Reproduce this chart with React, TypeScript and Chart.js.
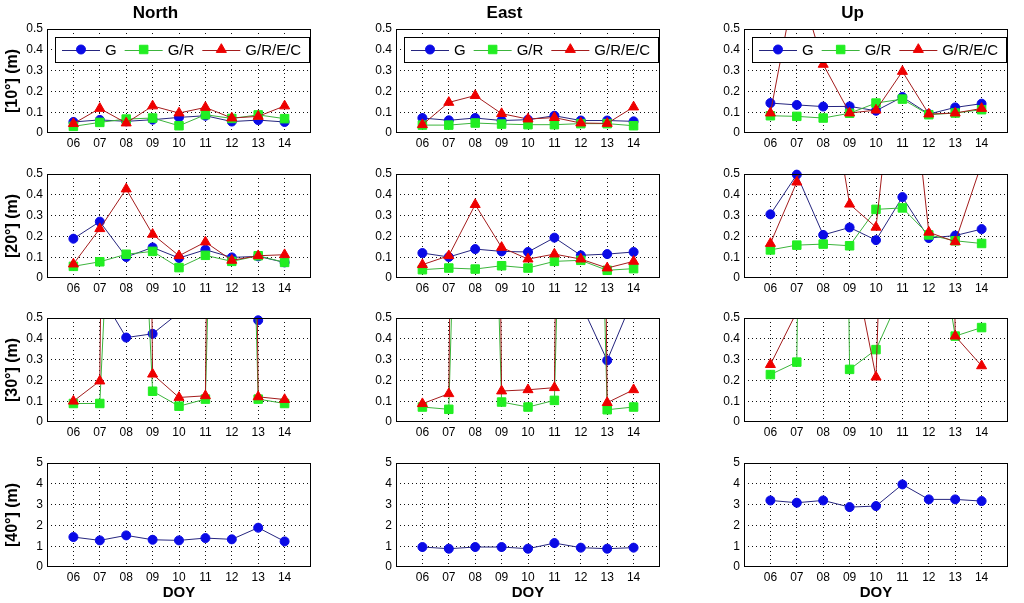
import React, { useEffect, useRef } from 'react';
import { Chart, registerables } from 'chart.js';

Chart.register(...registerables);

// ---------- data ----------
const days = ['06', '07', '08', '09', '10', '11', '12', '13', '14'];
const dayValues = [6, 7, 8, 9, 10, 11, 12, 13, 14];
const xLimits = [5, 15];
const seriesNames = ['G', 'G/R', 'G/R/E/C'];
const columnTitles = ['North', 'East', 'Up'];
const rowLabels = ['[10°] (m)', '[20°] (m)', '[30°] (m)', '[40°] (m)'];
const xTitle = 'DOY';
const yTicksSmall = [0, 0.1, 0.2, 0.3, 0.4, 0.5];
const yTicksLarge = [0, 1, 2, 3, 4, 5];

// 10 degrees
const north10G = [0.053, 0.063, 0.056, 0.064, 0.075, 0.083, 0.055, 0.062, 0.053];
const north10GR = [0.032, 0.051, 0.067, 0.072, 0.035, 0.088, 0.07, 0.087, 0.069];
const north10GREC = [0.045, 0.118, 0.048, 0.13, 0.096, 0.123, 0.072, 0.08, 0.13];
const east10G = [0.072, 0.061, 0.072, 0.06, 0.064, 0.083, 0.06, 0.06, 0.056];
const east10GR = [0.038, 0.038, 0.048, 0.043, 0.04, 0.04, 0.045, 0.045, 0.035];
const east10GREC = [0.04, 0.147, 0.18, 0.093, 0.067, 0.074, 0.048, 0.046, 0.125];
const up10G = [0.144, 0.135, 0.127, 0.128, 0.107, 0.173, 0.091, 0.123, 0.141];
const up10GR = [0.083, 0.08, 0.072, 0.095, 0.144, 0.163, 0.088, 0.096, 0.112];
const up10GREC = [0.096, 0.76, 0.33, 0.096, 0.11, 0.296, 0.091, 0.096, 0.118];

// 20 degrees
const north20G = [0.189, 0.271, 0.101, 0.147, 0.096, 0.136, 0.099, 0.104, 0.075];
const north20GR = [0.056, 0.078, 0.114, 0.128, 0.05, 0.109, 0.08, 0.107, 0.075];
const north20GREC = [0.067, 0.237, 0.428, 0.21, 0.107, 0.173, 0.085, 0.107, 0.112];
const east20G = [0.12, 0.101, 0.139, 0.128, 0.125, 0.194, 0.109, 0.115, 0.125];
const east20GR = [0.04, 0.048, 0.043, 0.059, 0.048, 0.08, 0.085, 0.037, 0.045];
const east20GREC = [0.064, 0.107, 0.353, 0.147, 0.091, 0.115, 0.091, 0.048, 0.08];
const up20G = [0.306, 0.497, 0.207, 0.243, 0.182, 0.389, 0.192, 0.204, 0.235];
const up20GR = [0.135, 0.158, 0.163, 0.155, 0.33, 0.337, 0.207, 0.179, 0.166];
const up20GREC = [0.166, 0.461, 1.12, 0.355, 0.244, 1.4, 0.22, 0.174, 0.55];

// 30 degrees
const north30G = [1.0, 0.62, 0.406, 0.424, 0.525, 1.2, 3.0, 0.489, 1.5];
const north30GR = [0.089, 0.089, 2.8, 0.148, 0.076, 0.11, 5.0, 0.11, 0.089];
const north30GREC = [0.1, 0.197, 12, 0.23, 0.118, 0.126, 12, 0.121, 0.108];
const east30G = [1.2, 1.5, 2.0, 1.1, 1.3, 1.0, 0.57, 0.296, 0.6];
const east30GR = [0.072, 0.061, 4.5, 0.096, 0.072, 0.104, 5.0, 0.059, 0.072];
const east30GREC = [0.088, 0.136, 12, 0.149, 0.155, 0.165, 12, 0.093, 0.155];
const up30G = [1.5, 2.0, 3.0, 2.5, 3.0, 4.0, 3.0, 2.0, 1.5];
const up30GR = [0.228, 0.288, 10, 0.253, 0.348, 0.63, 1.2, 0.413, 0.454];
const up30GREC = [0.276, 0.53, 5.0, 0.86, 0.216, 4.0, 10, 0.413, 0.27];

// 40 degrees
const north40G = [1.44, 1.28, 1.52, 1.31, 1.28, 1.39, 1.33, 1.89, 1.23];
const east40G = [0.96, 0.88, 0.96, 0.96, 0.88, 1.15, 0.93, 0.88, 0.93];
const up40G = [3.2, 3.09, 3.2, 2.88, 2.93, 3.97, 3.25, 3.25, 3.17];

type Series = number[] | null;
interface PanelDef { row: number; col: number; series: Series[] }

const panels: PanelDef[] = [
  { row: 0, col: 0, series: [north10G, north10GR, north10GREC] },
  { row: 0, col: 1, series: [east10G, east10GR, east10GREC] },
  { row: 0, col: 2, series: [up10G, up10GR, up10GREC] },
  { row: 1, col: 0, series: [north20G, north20GR, north20GREC] },
  { row: 1, col: 1, series: [east20G, east20GR, east20GREC] },
  { row: 1, col: 2, series: [up20G, up20GR, up20GREC] },
  { row: 2, col: 0, series: [north30G, north30GR, north30GREC] },
  { row: 2, col: 1, series: [east30G, east30GR, east30GREC] },
  { row: 2, col: 2, series: [up30G, up30GR, up30GREC] },
  { row: 3, col: 0, series: [north40G, null, null] },
  { row: 3, col: 1, series: [east40G, null, null] },
  { row: 3, col: 2, series: [up40G, null, null] },
];

// ---------- styles / layout ----------
const FONT = '"Liberation Sans", Arial, Helvetica, sans-serif';
const seriesStyle = [
  { line: '#25257f', fill: '#0a0ae6', shape: 'circle', r: 4.5 },
  { line: '#3cb43c', fill: '#22ee22', shape: 'rect', r: 6 },
  { line: '#a31c1c', fill: '#ee0000', shape: 'triangle', r: 5.8 },
];
const COL_LEFT = [47, 396, 744];
const ROW_TOP = [29, 174, 318, 463];
const PLOT_W = 264;
const PLOT_H = 104;
const AXIS_W = 47;
const TOP_PAD = 10;
const RIGHT_PAD = 8;
const PAGE_H = 603;

function drawMarker(ctx: CanvasRenderingContext2D, shape: string, x: number, y: number, r: number, color: string) {
  ctx.save();
  ctx.fillStyle = color;
  ctx.strokeStyle = color;
  ctx.lineWidth = 1;
  ctx.beginPath();
  if (shape === 'circle') {
    ctx.arc(x, y, r, 0, Math.PI * 2);
  } else if (shape === 'rect') {
    const s = Math.SQRT1_2 * r;
    ctx.rect(x - s, y - s, 2 * s, 2 * s);
  } else {
    let rad = 0;
    for (let k = 0; k < 3; k++) {
      const px = x + Math.sin(rad) * r;
      const py = y - Math.cos(rad) * r;
      if (k === 0) ctx.moveTo(px, py); else ctx.lineTo(px, py);
      rad += (Math.PI * 2) / 3;
    }
    ctx.closePath();
  }
  ctx.fill();
  ctx.stroke();
  ctx.restore();
}

const framePlugin = {
  id: 'matlabFrame',
  afterDatasetsDraw(chart: any) {
    const { ctx, chartArea } = chart;
    const l = Math.round(chartArea.left), t = Math.round(chartArea.top);
    const r = Math.round(chartArea.right), b = Math.round(chartArea.bottom);
    ctx.save();
    ctx.setLineDash([]);
    ctx.strokeStyle = '#000';
    ctx.lineWidth = 1;
    ctx.strokeRect(l + 0.5, t + 0.5, r - l - 1, b - t - 1);
    ctx.restore();
  },
};

const boxLegendPlugin = {
  id: 'boxLegend',
  afterDraw(chart: any, _args: any, opts: any) {
    if (!opts || !opts.display) return;
    const { ctx, chartArea } = chart;
    ctx.save();
    ctx.font = `15px ${FONT}`;
    const x0 = Math.round(chartArea.left) + 8;
    const y0 = Math.round(chartArea.top) + 8;
    const h = 25;
    const padL = 7, lineLen = 38, gapText = 5, gapEntry = 8, padR = 8;
    const entries = seriesNames.map((name, i) => ({ name, st: seriesStyle[i], w: ctx.measureText(name).width }));
    const totalW = Math.round(
      padL + entries.reduce((a, e) => a + lineLen + gapText + e.w, 0) + gapEntry * (entries.length - 1) + padR
    );
    ctx.fillStyle = '#fff';
    ctx.fillRect(x0, y0, totalW, h);
    ctx.strokeStyle = '#000';
    ctx.lineWidth = 1;
    ctx.strokeRect(x0 + 0.5, y0 + 0.5, totalW, h);
    const cy = y0 + h / 2;
    let x = x0 + padL;
    entries.forEach((e) => {
      ctx.strokeStyle = e.st.line;
      ctx.lineWidth = 1;
      ctx.beginPath();
      ctx.moveTo(x, Math.round(cy) + 0.5);
      ctx.lineTo(x + lineLen, Math.round(cy) + 0.5);
      ctx.stroke();
      drawMarker(ctx, e.st.shape, x + lineLen / 2, cy, e.st.r, e.st.fill);
      ctx.fillStyle = '#000';
      ctx.textAlign = 'left';
      ctx.textBaseline = 'middle';
      ctx.fillText(e.name, x + lineLen + gapText, cy + 1);
      x += lineLen + gapText + e.w + gapEntry;
    });
    ctx.restore();
  },
};

function Panel({ def }: { def: PanelDef }) {
  const ref = useRef<HTMLCanvasElement>(null);
  const { row, col } = def;
  const left = COL_LEFT[col] - AXIS_W;
  const top = row === 0 ? 0 : ROW_TOP[row] - TOP_PAD;
  const width = AXIS_W + PLOT_W + RIGHT_PAD;
  const plotBottom = ROW_TOP[row] + PLOT_H;
  const bottomH = row === 3 ? PAGE_H - plotBottom : 22;
  const height = plotBottom + bottomH - top;

  useEffect(() => {
    if (!ref.current) return;
    const yTicks = row === 3 ? yTicksLarge : yTicksSmall;
    const yMax = yTicks[yTicks.length - 1];
    const datasets: any[] = [];
    def.series.forEach((vals, i) => {
      if (!vals) return;
      const st = seriesStyle[i];
      const data = vals.map((v, j) => ({ x: dayValues[j], y: v }));
      datasets.push({
        label: seriesNames[i],
        data,
        borderColor: st.line,
        borderWidth: 1,
        pointRadius: 0,
        fill: false,
        tension: 0,
        order: 6 - 2 * i,
      });
      datasets.push({
        label: seriesNames[i] + ' markers',
        data,
        showLine: false,
        pointStyle: st.shape,
        pointRadius: vals.map((v) => (v <= yMax ? st.r : 0)),
        pointBackgroundColor: st.fill,
        pointBorderColor: st.fill,
        pointBorderWidth: 1,
        clip: false,
        order: 5 - 2 * i,
      });
    });

    const gridColor = (c: any) =>
      c.tick && (c.tick.value === 0 || c.tick.value === yMax) ? 'rgba(0,0,0,0)' : '#111';
    const xGridColor = (c: any) =>
      c.tick && (c.tick.value === xLimits[0] || c.tick.value === xLimits[1]) ? 'rgba(0,0,0,0)' : '#111';
    const zeroPad = (s: any) => {
      s.paddingLeft = 0;
      s.paddingRight = 0;
      s.paddingTop = 0;
      s.paddingBottom = 0;
    };

    const titleSize = 17;
    const chart = new Chart(ref.current, {
      type: 'line',
      data: { datasets },
      options: {
        responsive: false,
        animation: false,
        events: [],
        layout: { padding: { top: row === 0 ? 0 : TOP_PAD, right: RIGHT_PAD, bottom: 0, left: 0 } },
        plugins: {
          legend: { display: false },
          tooltip: { enabled: false },
          title: {
            display: row === 0,
            text: columnTitles[col],
            color: '#000',
            font: { family: FONT, size: titleSize, weight: 'bold', lineHeight: 1.2 },
            padding: { top: 3, bottom: ROW_TOP[0] - 3 - titleSize * 1.2 },
          },
          boxLegend: { display: row === 0 },
        } as any,
        scales: {
          x: {
            type: 'linear',
            min: xLimits[0],
            max: xLimits[1],
            afterBuildTicks: (s: any) => {
              s.ticks = dayValues.map((v) => ({ value: v }));
            },
            afterFit: (s: any) => {
              s.height = bottomH;
              zeroPad(s);
            },
            ticks: {
              callback: (v: any) => {
                const k = dayValues.indexOf(Number(v));
                return k >= 0 ? days[k] : '';
              },
              color: '#000',
              font: { family: FONT, size: 12 },
              padding: 3.5,
              autoSkip: false,
              maxRotation: 0,
            },
            grid: { color: xGridColor, lineWidth: 1, drawTicks: false },
            border: { display: false, dash: [1, 3] },
            title: {
              display: row === 3,
              text: xTitle,
              color: '#000',
              font: { family: FONT, size: 15, weight: 'bold', lineHeight: 1.2 },
              padding: { top: 0, bottom: 1 },
            },
          },
          y: {
            type: 'linear',
            min: 0,
            max: yMax,
            afterBuildTicks: (s: any) => {
              s.ticks = yTicks.map((v) => ({ value: v }));
            },
            afterFit: (s: any) => {
              s.width = AXIS_W;
              zeroPad(s);
            },
            ticks: {
              callback: (v: any) => String(v),
              color: '#000',
              font: { family: FONT, size: 12 },
              padding: 4,
            },
            grid: { color: gridColor, lineWidth: 1, drawTicks: false },
            border: { display: false, dash: [1, 3] },
            title: {
              display: col === 0,
              text: rowLabels[row],
              color: '#000',
              font: { family: FONT, size: 16, weight: 'bold', lineHeight: 1.2 },
              padding: { top: 3, bottom: 0 },
            },
          },
        },
      } as any,
      plugins: [framePlugin, boxLegendPlugin],
    });
    return () => chart.destroy();
  }, []);

  return (
    <canvas
      ref={ref}
      width={width}
      height={height}
      style={{ position: 'absolute', left, top, width, height }}
    />
  );
}

export default function App() {
  return (
    <div
      style={{
        position: 'absolute',
        left: 0,
        top: 0,
        width: 1024,
        height: PAGE_H,
        background: '#fff',
        overflow: 'hidden',
      }}
    >
      {panels.map((p) => (
        <Panel key={`${p.row}-${p.col}`} def={p} />
      ))}
    </div>
  );
}
